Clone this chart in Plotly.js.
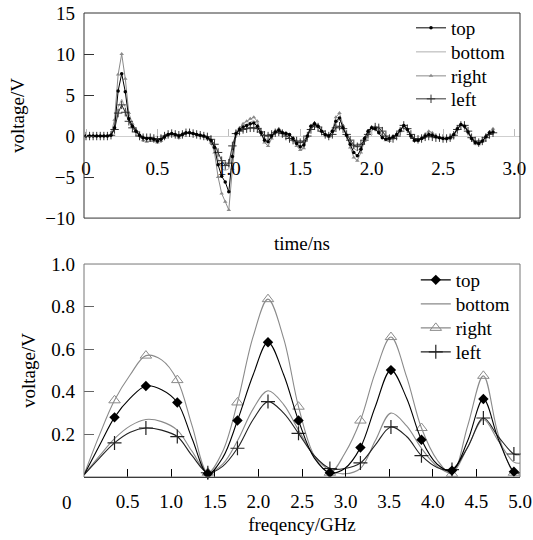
<!DOCTYPE html>
<html><head><meta charset="utf-8">
<script src="https://cdn.plot.ly/plotly-3.0.1.min.js"></script>
<style>html,body{margin:0;padding:0;background:#fff}#chart{width:533px;height:540px}</style>
</head><body><div id="chart"></div>
<script>
// ---- time-domain data (ns, V) ----
const timeNs = [0,0.025,0.05,0.075,0.1,0.125,0.15,0.175,0.2,0.225,0.25,0.275,0.3,0.325,0.35,0.375,0.4,0.425,0.45,0.475,0.5,0.525,0.55,0.575,0.6,0.625,0.65,0.675,0.7,0.725,0.75,0.775,0.8,0.825,0.85,0.875,0.9,0.925,0.95,0.975,1,1.025,1.05,1.075,1.1,1.125,1.15,1.175,1.2,1.225,1.25,1.275,1.3,1.325,1.35,1.375,1.4,1.425,1.45,1.475,1.5,1.525,1.55,1.575,1.6,1.625,1.65,1.675,1.7,1.725,1.75,1.775,1.8,1.825,1.85,1.875,1.9,1.925,1.95,1.975,2,2.025,2.05,2.075,2.1,2.125,2.15,2.175,2.2,2.225,2.25,2.275,2.3,2.325,2.35,2.375,2.4,2.425,2.45,2.475,2.5,2.525,2.55,2.575,2.6,2.625,2.65,2.675,2.7,2.725,2.75,2.775,2.8,2.825,2.85];
const timeTop = [0,0,0,0,0,0,0,0.1,1.0,5.5,7.6,5.4,2.1,1.2,0.6,0.1,-0.2,-0.3,-0.3,-0.4,-0.6,-0.4,-0.1,0.2,0.3,0.2,0.0,0.2,0.4,0.4,0.3,0.2,0.1,0.0,-0.2,-0.5,-1.4,-3.5,-4.9,-5.6,-6.8,-2.5,0.3,0.8,1.1,1.3,1.5,1.6,1.2,0.4,-0.5,-0.7,0.0,0.5,0.7,0.4,0.3,0.2,-0.3,-0.9,-1.3,-1.1,0.0,1.2,1.5,1.2,0.6,0.2,0.0,0.6,1.8,2.2,1.0,0.1,-1.0,-2.0,-2.4,-1.6,-0.3,0.6,1.0,0.9,0.4,-0.2,-0.4,-0.3,-0.1,0.2,0.7,1.3,0.8,0.0,-0.5,-0.5,-0.3,0.0,0.2,0.1,-0.1,-0.2,-0.3,-0.3,-0.2,0.2,0.9,1.4,1.2,0.5,-0.3,-0.8,-0.9,-0.6,-0.1,0.4,0.5];
const timeBottom = [0,0,0,0,0,0,0,0.1,1.0,3.5,4.5,3.5,2.0,1.2,0.6,0.1,-0.2,-0.3,-0.3,-0.4,-0.5,-0.3,0.0,0.2,0.3,0.2,0.0,0.2,0.4,0.4,0.3,0.2,0.1,0.0,-0.2,-0.5,-1.2,-2.8,-4.0,-4.2,-4.0,-1.8,0.4,0.9,1.2,1.5,1.7,1.9,1.5,0.7,-0.2,-0.5,0.1,0.6,0.8,0.5,0.3,0.1,-0.4,-1.0,-1.5,-1.3,-0.2,1.0,1.5,1.3,0.7,0.2,-0.1,0.3,1.5,2.0,1.2,0.2,-0.6,-1.5,-1.8,-1.4,-0.7,0.0,0.6,1.0,1.0,0.5,-0.1,-0.5,-0.4,0.0,0.6,1.2,0.9,0.1,-0.4,-0.6,-0.4,-0.1,0.2,0.1,-0.1,-0.2,-0.3,-0.3,-0.2,0.2,0.9,1.4,1.2,0.5,-0.3,-0.8,-0.8,-0.5,0.0,0.4,0.5];
const timeRight = [0,0,0,0,0,0,0,0.2,2.0,7.5,10.0,7.0,2.8,1.5,0.7,0.0,-0.5,-0.7,-0.6,-0.6,-0.8,-0.6,-0.2,0.1,0.2,0.0,-0.2,0.1,0.4,0.5,0.3,0.1,0.0,-0.1,-0.3,-0.8,-2.0,-5.0,-7.0,-8.0,-9.0,-4.0,0.2,1.0,1.5,1.8,2.1,2.3,1.8,0.6,-0.8,-1.2,-0.3,0.6,0.9,0.5,0.4,0.2,-0.5,-1.2,-1.7,-1.5,-0.1,1.3,1.6,1.3,0.6,0.1,-0.1,0.7,2.3,2.8,1.3,0.0,-1.4,-2.6,-3.0,-2.0,-0.6,0.4,1.0,1.1,0.7,0.0,-0.5,-0.6,-0.3,0.1,0.6,1.2,0.9,0.0,-0.6,-0.6,-0.3,0.2,0.6,0.4,0.0,-0.2,-0.3,-0.4,-0.3,0.1,0.8,1.4,1.3,0.6,-0.3,-0.9,-1.0,-0.7,-0.1,0.5,0.9];
const timeLeft = [0,0,0,0,0,0,0,0.1,0.8,2.8,3.8,2.9,1.8,1.0,0.5,0.0,-0.2,-0.2,-0.2,-0.3,-0.4,-0.3,0.0,0.2,0.3,0.2,0.1,0.2,0.4,0.4,0.3,0.2,0.1,0.0,-0.1,-0.4,-1.0,-2.0,-3.0,-3.6,-3.3,-1.2,0.3,0.6,0.8,0.9,1.0,1.0,0.9,0.5,0.1,0.0,0.2,0.4,0.5,0.3,0.0,-0.3,-0.5,-0.6,-0.8,-0.6,0.0,0.8,1.3,1.1,0.6,0.2,0.0,0.2,1.0,1.2,0.9,0.2,-0.5,-1.1,-1.3,-1.0,-0.5,0.2,0.8,1.1,1.0,0.6,0.0,-0.3,-0.3,0.0,0.6,1.3,0.9,0.2,-0.3,-0.4,-0.3,-0.1,0.0,-0.1,-0.2,-0.2,-0.3,-0.3,-0.2,0.1,0.8,1.3,1.3,0.6,-0.2,-0.6,-0.8,-0.6,-0.2,0.2,0.4];

// ---- frequency-domain data (GHz, V) ----
const freqGHz = [0,0.18,0.35,0.53,0.71,0.89,1.07,1.24,1.42,1.59,1.76,1.94,2.11,2.29,2.46,2.64,2.82,2.99,3.17,3.34,3.52,3.70,3.87,4.05,4.22,4.40,4.58,4.75,4.93,5.0];
const specTop    = [0.01,0.15,0.28,0.37,0.427,0.41,0.35,0.18,0.015,0.09,0.265,0.48,0.633,0.48,0.265,0.09,0.02,0.04,0.138,0.33,0.502,0.37,0.175,0.06,0.03,0.17,0.366,0.18,0.025,0.02];
const specBottom = [0.01,0.10,0.18,0.24,0.27,0.26,0.22,0.12,0.02,0.06,0.17,0.32,0.405,0.34,0.22,0.10,0.03,0.015,0.04,0.17,0.30,0.24,0.135,0.05,0.02,0.14,0.27,0.17,0.07,0.065];
const specRight  = [0.01,0.20,0.36,0.48,0.57,0.55,0.455,0.24,0.02,0.12,0.35,0.66,0.835,0.65,0.33,0.10,0.02,0.11,0.265,0.49,0.657,0.47,0.23,0.08,0.015,0.24,0.475,0.20,0.02,0.02];
const specLeft   = [0.01,0.09,0.16,0.21,0.23,0.22,0.19,0.10,0.02,0.05,0.135,0.27,0.354,0.30,0.205,0.10,0.04,0.04,0.066,0.15,0.235,0.19,0.10,0.045,0.035,0.14,0.277,0.19,0.108,0.105];

// ---- tick labels ----
const timeTicks = [0,0.5,1,1.5,2,2.5,3];
const timeTickText = ['0','0.5','1.0','1.5','2.0','2.5','3.0'];
const voltTicks = [-10,-5,0,5,10,15];
const freqTicks = [0.5,1,1.5,2,2.5,3,3.5,4,4.5,5];
const freqTickText = ['0.5','1.0','1.5','2.0','2.5','3.0','3.5','4.0','4.5','5.0'];
const specTicks = [0.2,0.4,0.6,0.8,1.0];
const specTickText = ['0.2','0.4','0.6','0.8','1.0'];
const names = ['top','bottom','right','left'];

const FONT = 'Liberation Serif, Times New Roman, serif';
const traces = [];

// legend slots: one small legend per entry so the row spacing matches
const topLegendY = [0.9677, 0.9159, 0.8642, 0.8147];
const botLegendY = [0.4246, 0.3728, 0.3211, 0.2694];

// top chart
function tTrace(y, idx, color, marker){
  const t = {x: timeNs, y: y, name: names[idx], type:'scatter', xaxis:'x', yaxis:'y', legend: 'legend' + (idx === 0 ? '' : (idx + 1)),
    line:{color:color, width:1}, mode: marker ? 'lines+markers':'lines'};
  if (marker) t.marker = marker;
  return t;
}
traces.push(tTrace(timeBottom, 1, '#b0b0b0', null));
traces.push(tTrace(timeRight, 2, '#8a8a8a', {symbol:'triangle-up', size:4, color:'#8a8a8a'}));
traces.push(tTrace(timeLeft, 3, '#333', {symbol:'cross-thin-open', size:6, color:'#333', line:{color:'#333', width:1}}));
traces.push(tTrace(timeTop, 0, '#000', {symbol:'circle', size:3.5, color:'#000'}));

// bottom chart
function sTraces(y, idx, color, marker){
  traces.push({x: freqGHz, y: y, type:'scatter', mode:'lines', xaxis:'x2', yaxis:'y2',
    line:{color:color, width:1.1, shape:'spline', smoothing:1}, showlegend:false, hoverinfo:'skip'});
  if (marker){
    const mx = [], my = [];
    for (let i = 2; i < freqGHz.length - 1; i += 2){ mx.push(freqGHz[i]); my.push(y[i]); }
    traces.push({x: mx, y: my, type:'scatter', mode:'markers', xaxis:'x2', yaxis:'y2',
      marker: marker, showlegend:false, cliponaxis:false});
  }
  const leg = {x:[null], y:[null], type:'scatter', xaxis:'x2', yaxis:'y2', name:names[idx], legend:'legend' + (idx + 5),
    mode: marker ? 'lines+markers' : 'lines', line:{color:color, width:1.1}};
  if (marker) leg.marker = marker;
  traces.push(leg);
}
sTraces(specBottom, 1, '#8a8a8a', null);
sTraces(specRight, 2, '#8a8a8a', {symbol:'triangle-up-open', size:10, color:'#8a8a8a', line:{color:'#8a8a8a', width:1}});
sTraces(specLeft, 3, '#222', {symbol:'cross-thin-open', size:10, color:'#222', line:{color:'#222', width:1.2}});
sTraces(specTop, 0, '#000', {symbol:'diamond', size:8, color:'#000'});

const tickFont = {family: FONT, size: 19, color:'#000'};
function legendAt(x, y){
  return {x:x, y:y, xanchor:'left', yanchor:'middle', bgcolor:'rgba(0,0,0,0)', borderwidth:0,
    font:{family:FONT, size:19, color:'#000'}, tracegroupgap:0, itemwidth:30};
}
const layout = {
  width: 533, height: 540,
  margin: {l:84, r:13, t:13, b:63, pad:0, autoexpand:false},
  paper_bgcolor:'#fff', plot_bgcolor:'#fff',
  font: {family: FONT, size: 19, color:'#000'},
  showlegend: true,
  xaxis: {domain:[0,1], range:[-0.014, 3.039], anchor:'free', position:0.735,
    tickvals: timeTicks, ticktext: timeTickText, ticks:'inside', ticklen:7, tickcolor:'#bbb', tickwidth:1,
    ticklabelstandoff: 19, showline:false, zeroline:false, showgrid:false, tickfont: tickFont,
    title:{text:'time/ns', font:{family:FONT, size:19}, standoff: 58}},
  yaxis: {domain:[0.558,1], range:[-10,15], anchor:'x', tickvals: voltTicks, ticks:'inside', ticklen:10,
    tickcolor:'#333', tickwidth:1, showline:false, showgrid:false, zeroline:true, zerolinecolor:'#cfcfcf',
    zerolinewidth:1, tickfont: tickFont, ticklabelstandoff: 8,
    title:{text:'voltage/V', font:{family:FONT, size:19}, standoff: 15}},
  xaxis2: {domain:[0,1], range:[0,5], anchor:'y2', tickvals: freqTicks, ticktext: freqTickText,
    ticks:'inside', ticklen:8, tickcolor:'#000', tickwidth:1, showline:true, linecolor:'#000', linewidth:1.2,
    showgrid:false, zeroline:false, tickfont: tickFont, ticklabelstandoff: 7,
    title:{text:'freqency/GHz', font:{family:FONT, size:19}, standoff: 6}},
  yaxis2: {domain:[0,0.459], range:[0,1], anchor:'x2', tickvals: specTicks, ticktext: specTickText,
    ticks:'inside', ticklen:10, tickcolor:'#666', tickwidth:1, showline:false, showgrid:false, zeroline:false,
    tickfont: tickFont, ticklabelstandoff: 8,
    title:{text:'voltage/V', font:{family:FONT, size:19}, standoff: 10}},
  legend:  legendAt(0.75, topLegendY[0]),
  legend2: legendAt(0.75, topLegendY[1]),
  legend3: legendAt(0.75, topLegendY[2]),
  legend4: legendAt(0.75, topLegendY[3]),
  legend5: legendAt(0.761, botLegendY[0]),
  legend6: legendAt(0.761, botLegendY[1]),
  legend7: legendAt(0.761, botLegendY[2]),
  legend8: legendAt(0.761, botLegendY[3]),
  shapes: [
    {type:'rect', xref:'x domain', yref:'y domain', x0:0, x1:1, y0:0, y1:1, line:{color:'#333', width:1}},
    {type:'rect', xref:'x2 domain', yref:'y2 domain', x0:0, x1:1, y0:0, y1:1, line:{color:'#777', width:1}}
  ],
  annotations: [
    {text:'0', xref:'paper', yref:'paper', x:-0.039, y:-0.054, xanchor:'center', yanchor:'middle',
     showarrow:false, font:{family:FONT, size:19, color:'#000'}}
  ]
};
Plotly.newPlot('chart', traces, layout, {staticPlot:true, displayModeBar:false});
</script></body></html>
